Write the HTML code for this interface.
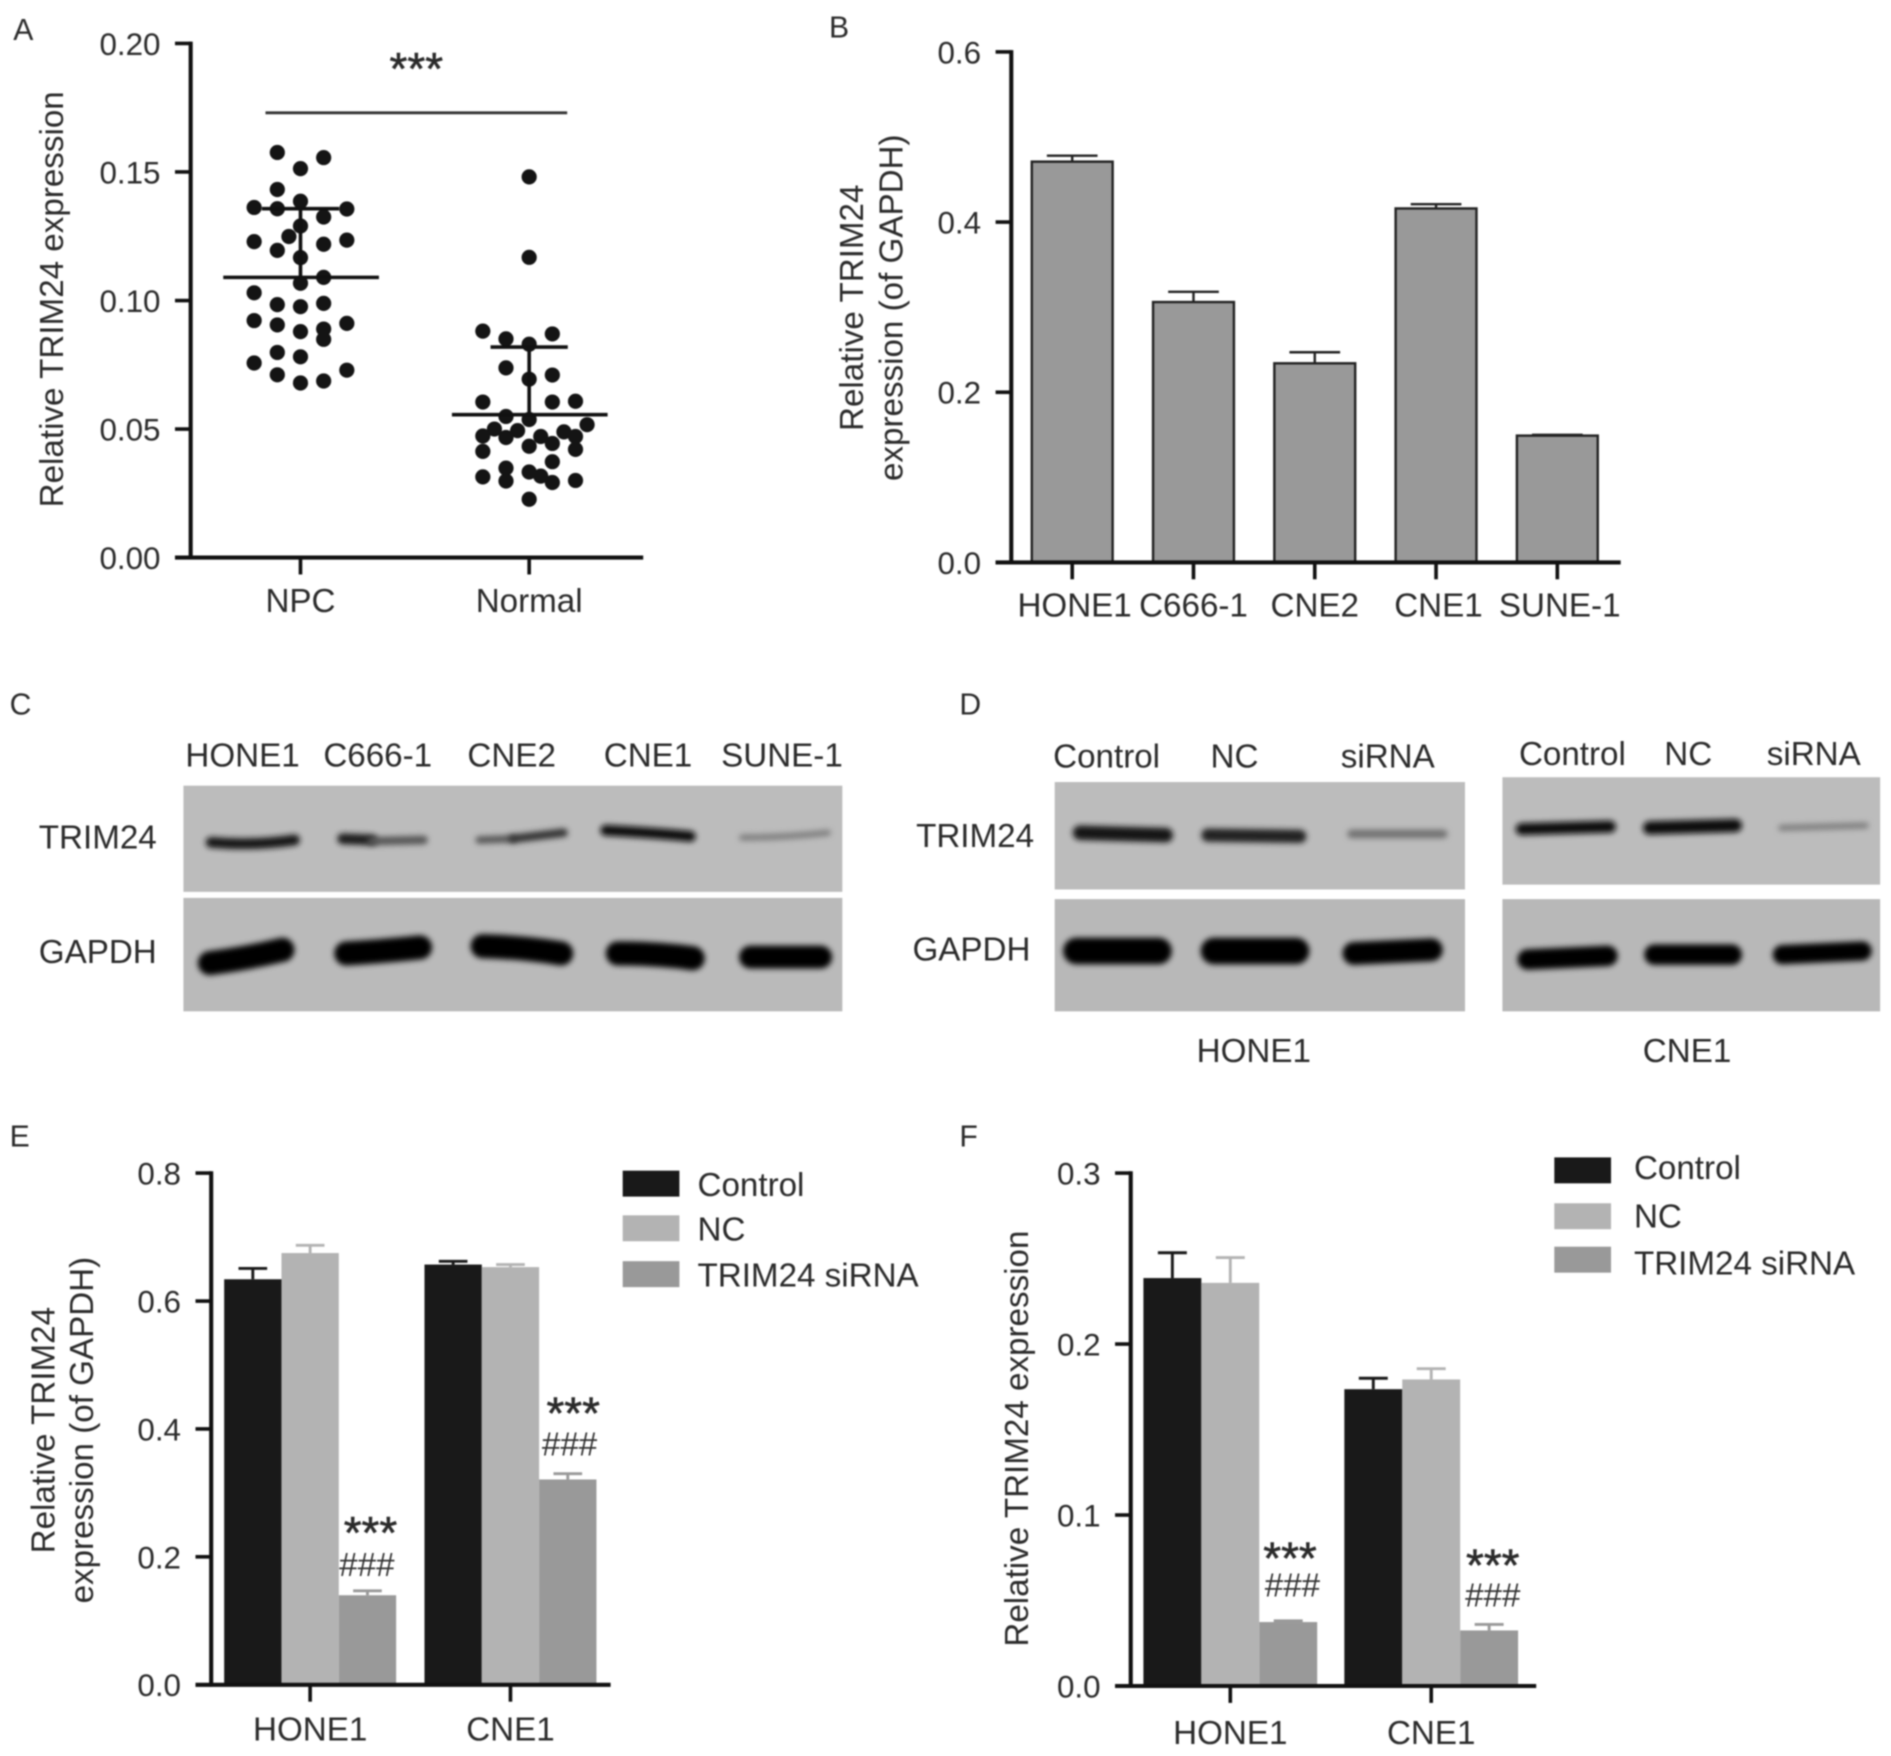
<!DOCTYPE html>
<html lang="en">
<head>
<meta charset="utf-8">
<title>TRIM24 expression figure</title>
<style>
html,body{margin:0;padding:0;background:#fff;width:1891px;height:1756px;overflow:hidden}
svg{display:block;filter:blur(.7px)}
text{font-family:"Liberation Sans",Arial,sans-serif;fill:#2b2b2b}
.t{font-size:27.5px}
.tick{font-size:26px}
.band{fill:none;stroke-linecap:round;filter:url(#bandBlur)}
</style>
</head>
<body>
<svg id="figure" xmlns="http://www.w3.org/2000/svg" width="1891" height="1756" viewBox="0 0 1567 1455" preserveAspectRatio="none">
<defs>
<filter id="bandBlur" filterUnits="userSpaceOnUse" x="0" y="0" width="1567" height="1455"><feGaussianBlur stdDeviation="2.4"/></filter>
</defs>
<rect width="1567" height="1455" fill="#fff"/>

<text x="11" y="33" style="font-size:25px">A</text>
<text x="687" y="31" style="font-size:25px">B</text>
<text x="8" y="592" style="font-size:25px">C</text>
<text x="795" y="592" style="font-size:25px">D</text>
<text x="8" y="950" style="font-size:25px">E</text>
<text x="795" y="950" style="font-size:25px">F</text>

<g id="panelA"></g>
<g id="panelB"></g>
<g id="panelE"></g>
<g id="panelF"></g>

<g>
  <rect x="152" y="651" width="546" height="88" fill="#bcbcbc"/>
  <rect x="152" y="744" width="546" height="94" fill="#bababa"/>
  <path class="band" d="M175 698 Q210 701 244 696" stroke="#141414" stroke-width="9"/>
  <path class="band" d="M284 695 L308 696" stroke="#1e1e1e" stroke-width="9"/>
  <path class="band" d="M308 697 L351 696" stroke="#555" stroke-width="7"/>
  <path class="band" d="M397 696 L425 695" stroke="#555" stroke-width="6"/>
  <path class="band" d="M425 695 L467 690" stroke="#333" stroke-width="7"/>
  <path class="band" d="M502 688 Q540 690 572 693" stroke="#111" stroke-width="9"/>
  <path class="band" d="M615 694 Q650 694 686 690" stroke="#7d7d7d" stroke-width="5"/>
  <path class="band" d="M174 798 Q205 794 234 787" stroke="#050505" stroke-width="20"/>
  <path class="band" d="M287 790 Q320 788 348 785" stroke="#050505" stroke-width="20"/>
  <path class="band" d="M400 784 Q435 785 465 790" stroke="#050505" stroke-width="20"/>
  <path class="band" d="M512 790 Q545 790 574 794" stroke="#050505" stroke-width="20"/>
  <path class="band" d="M622 793 L680 793" stroke="#050505" stroke-width="19"/>
  <text class="t" x="201" y="635" text-anchor="middle">HONE1</text>
  <text class="t" x="313" y="635" text-anchor="middle">C666-1</text>
  <text class="t" x="424" y="635" text-anchor="middle">CNE2</text>
  <text class="t" x="537" y="635" text-anchor="middle">CNE1</text>
  <text class="t" x="648" y="635" text-anchor="middle">SUNE-1</text>
  <text class="t" x="81" y="703" text-anchor="middle">TRIM24</text>
  <text class="t" x="81" y="798" text-anchor="middle">GAPDH</text>
</g>

<g>
  <rect x="874" y="648" width="340" height="89" fill="#bcbcbc"/>
  <rect x="874" y="745" width="340" height="93" fill="#b8b8b8"/>
  <rect x="1245" y="644" width="313" height="89" fill="#bcbcbc"/>
  <rect x="1245" y="745" width="313" height="93" fill="#b8b8b8"/>
  <path class="band" d="M895 690 L966 692" stroke="#121212" stroke-width="12"/>
  <path class="band" d="M1001 692 L1077 693" stroke="#202020" stroke-width="11"/>
  <path class="band" d="M1120 691 L1196 691" stroke="#6f6f6f" stroke-width="7"/>
  <path class="band" d="M892 788 L960 788" stroke="#050505" stroke-width="22"/>
  <path class="band" d="M1006 788 L1074 788" stroke="#050505" stroke-width="22"/>
  <path class="band" d="M1122 790 L1186 787" stroke="#050505" stroke-width="19"/>
  <path class="band" d="M1261 687 L1334 685" stroke="#101010" stroke-width="10"/>
  <path class="band" d="M1367 686 L1438 684" stroke="#101010" stroke-width="11"/>
  <path class="band" d="M1476 686 L1546 684" stroke="#7d7d7d" stroke-width="5"/>
  <path class="band" d="M1266 795 L1332 792" stroke="#050505" stroke-width="17"/>
  <path class="band" d="M1371 791 L1435 791" stroke="#050505" stroke-width="17"/>
  <path class="band" d="M1477 791 L1543 788" stroke="#050505" stroke-width="16"/>
  <text class="t" x="917" y="636" text-anchor="middle">Control</text>
  <text class="t" x="1023" y="636" text-anchor="middle">NC</text>
  <text class="t" x="1150" y="636" text-anchor="middle">siRNA</text>
  <text class="t" x="1303" y="634" text-anchor="middle">Control</text>
  <text class="t" x="1399" y="634" text-anchor="middle">NC</text>
  <text class="t" x="1503" y="634" text-anchor="middle">siRNA</text>
  <text class="t" x="808" y="702" text-anchor="middle">TRIM24</text>
  <text class="t" x="805" y="796" text-anchor="middle">GAPDH</text>
  <text class="t" x="1039" y="880" text-anchor="middle">HONE1</text>
  <text class="t" x="1398" y="880" text-anchor="middle">CNE1</text>
</g>
</svg>

<script>
// Panel A data
const aYTicks = [0, 0.05, 0.10, 0.15, 0.20];
const aYTickLabels = ['0.00', '0.05', '0.10', '0.15', '0.20'];
const aCategories = ['NPC', 'Normal'];
const npcValues = [.1576,.1556,.1513,.1432,.1362,.1357,.1386,.1356,.1325,.1290,.1249,.1229,.1235,.1219,.1195,.1167,.1090,.1067,.1030,.0984,.0976,.0989,.0922,.0905,.0911,.0879,.0889,.0849,.0798,.0781,.0757,.0729,.0711,.0679,.0687];
const npcSwarmSlots = [-1,1,0,-1,-2,-1,0,2,1,0,-.5,-2,2,1,-1,0,1,0,-2,-1,0,1,-2,-1,2,0,1,1,-1,0,-2,2,-1,0,1];
const normalValues = [.1481,.1168,.0881,.0851,.0870,.0830,.0738,.0710,.0694,.0605,.0605,.0608,.0549,.0537,.0517,.0500,.0494,.0473,.0467,.0471,.0489,.0471,.0444,.0433,.0413,.0421,.0373,.0348,.0333,.0317,.0314,.0298,.0292,.0300,.0227];
const normalSwarmSlots = [0,0,-2,-1,1,0,-1,1,0,-2,1,2,-1,0,2.5,-1.5,-.5,-2,-1,.5,1.5,2,1,0,-2,2,1,-1,0,.5,-2,-1,1,2,0];
const aMeans = [0.1090, 0.0556];
const aUpperSd = [0.1357, 0.0819];
const aSignificance = 0.1730;

// Panel B data
const bYTicks = [0, 0.2, 0.4, 0.6];
const bYTickLabels = ['0.0', '0.2', '0.4', '0.6'];
const bCategories = ['HONE1', 'C666-1', 'CNE2', 'CNE1', 'SUNE-1'];
const bValues = [0.471, 0.306, 0.234, 0.416, 0.149];
const bErrors = [0.478, 0.318, 0.247, 0.421, 0.150];

// Panel E data
const eYTicks = [0, 0.2, 0.4, 0.6, 0.8];
const eYTickLabels = ['0.0', '0.2', '0.4', '0.6', '0.8'];
const eCategories = ['HONE1', 'CNE1'];
const seriesNames = ['Control', 'NC', 'TRIM24 siRNA'];
const eControl = [0.634, 0.657];
const eNC = [0.675, 0.653];
const eSiRNA = [0.140, 0.321];
const eControlErr = [0.651, 0.662];
const eNCErr = [0.687, 0.657];
const eSiRNAErr = [0.147, 0.330];

// Panel F data
const fYTicks = [0, 0.1, 0.2, 0.3];
const fYTickLabels = ['0.0', '0.1', '0.2', '0.3'];
const fCategories = ['HONE1', 'CNE1'];
const fControl = [0.2386, 0.1736];
const fNC = [0.2358, 0.1793];
const fSiRNA = [0.0374, 0.0325];
const fControlErr = [0.2534, 0.1800];
const fNCErr = [0.2506, 0.1856];
const fSiRNAErr = [0.0381, 0.0360];

const seriesColors = ['#191919', '#b3b3b3', '#999999'];
const NS = 'http://www.w3.org/2000/svg';

function mk(parent, tag, attrs, name, txt) {
  const el = document.createElementNS(NS, tag);
  for (const k in attrs) el.setAttribute(k, attrs[k]);
  
  
  if (txt !== undefined) el.textContent = txt;
  parent.appendChild(el);
  return el;
}
function line(p, x1, y1, x2, y2, stroke, w, name) {
  return mk(p, 'line', {x1, y1, x2, y2, stroke, 'stroke-width': w}, name);
}
function linear(d0, d1, r0, r1) {
  return v => r0 + (v - d0) * (r1 - r0) / (d1 - d0);
}
function drawAxes(p, cfg) {
  const y = cfg.y;
  const top = y(cfg.ticks[cfg.ticks.length - 1]), base = y(0);
  line(p, cfg.axisX, top - 1.5, cfg.axisX, base + 1.5, '#111', 3.4, 'y-axis');
  line(p, cfg.axisX - 13, base, cfg.axisEnd, base, '#111', 3.4, 'x-axis');
  cfg.ticks.forEach((t, i) => {
    line(p, cfg.axisX - 13, y(t), cfg.axisX, y(t), '#111', 3, 'y-tick');
    mk(p, 'text', {x: cfg.axisX - 25, y: y(t) + 9.5, 'text-anchor': 'end', class: 'tick'}, 'y-tick-label', cfg.labels[i]);
  });
  cfg.cats.forEach((c, i) => {
    const cx = cfg.catX(i);
    line(p, cx, base, cx, base + 14, '#111', 3, 'x-tick');
    mk(p, 'text', {x: cx + (cfg.labelShift ? cfg.labelShift[i] : 0), y: base + cfg.labelDy, 'text-anchor': 'middle', class: 't'}, 'x-tick-label', c);
  });
  cfg.title.forEach((row, i) => {
    mk(p, 'text', {x: 0, y: 0, 'text-anchor': 'middle', class: 't', transform: `translate(${cfg.titleX[i]} ${cfg.titleY}) rotate(-90)`}, 'y-axis-title', row);
  });
}
function starMark(p, x, y) {
  mk(p, 'text', {x, y, 'text-anchor': 'middle', style: 'font-size:38px;fill:#2b2b2b;stroke:#2b2b2b;stroke-width:.5'}, 'significance-stars', '***');
}
function hashMark(p, x, y) {
  mk(p, 'text', {x, y, 'text-anchor': 'middle', style: 'font-size:27.5px;fill:#333'}, 'significance-hashes', '###');
}

// ---- Panel A
(function () {
  const p = document.getElementById('panelA');
  const y = linear(0, 0.2, 462, 36);
  const centers = [249, 438.5];
  const slotW = 19.2, r = 6.3;
  drawAxes(p, {y, ticks: aYTicks, labels: aYTickLabels, axisX: 158, axisEnd: 533, cats: aCategories,
    catX: i => centers[i], labelDy: 45, title: ['Relative TRIM24 expression'], titleX: [52], titleY: 248});
  [[npcValues, npcSwarmSlots, 'npc-point'], [normalValues, normalSwarmSlots, 'normal-point']].forEach((s, k) => {
    s[0].forEach((v, i) => {
      mk(p, 'circle', {cx: centers[k] + s[1][i] * slotW, cy: y(v), r, fill: '#141414'}, s[2]);
    });
  });
  aMeans.forEach((m, i) => {
    const c = centers[i];
    line(p, c - 64, y(m), c + 65, y(m), '#111', 3, 'mean-line');
    line(p, c, y(m), c, y(aUpperSd[i]), '#111', 3, 'sd-bar');
    line(p, c - 32, y(aUpperSd[i]), c + 32, y(aUpperSd[i]), '#111', 3, 'sd-cap');
  });
  line(p, 220, y(aSignificance), 470, y(aSignificance), '#333', 2.4, 'significance-line');
  starMark(p, 345, 70);
})();

// ---- Panel B
(function () {
  const p = document.getElementById('panelB');
  const y = linear(0, 0.6, 466, 43);
  const catX = i => 888.5 + i * 100.5;
  const w = 67;
  bValues.forEach((v, i) => {
    const cx = catX(i);
    line(p, cx, y(v), cx, y(bErrors[i]), '#222', 2, 'bar-error');
    line(p, cx - 21, y(bErrors[i]), cx + 21, y(bErrors[i]), '#222', 2, 'bar-error-cap');
    mk(p, 'rect', {x: cx - w / 2, y: y(v), width: w, height: y(0) - y(v), fill: '#999', stroke: '#222', 'stroke-width': 2}, 'bar-' + bCategories[i].toLowerCase());
  });
  drawAxes(p, {y, ticks: bYTicks, labels: bYTickLabels, axisX: 838, axisEnd: 1343, cats: bCategories, catX,
    labelDy: 45, labelShift: [2, 0, 0, 2, 2],
    title: ['Relative TRIM24', 'expression (of GAPDH)'], titleX: [715, 748], titleY: 255});
})();

// ---- Grouped bars
function grouped(p, cfg) {
  const y = cfg.y;
  cfg.series.forEach((vals, s) => {
    vals.forEach((v, g) => {
      const cx = cfg.catX(g) + (s - 1) * cfg.step;
      const e = cfg.errs[s][g];
      line(p, cx, y(v), cx, y(e), seriesColors[s], 2.4, 'bar-error');
      line(p, cx - cfg.w / 4, y(e), cx + cfg.w / 4, y(e), seriesColors[s], 2.4, 'bar-error-cap');
      mk(p, 'rect', {x: cx - cfg.step / 2, y: y(v), width: cfg.step, height: y(0) - y(v), fill: seriesColors[s]}, 'bar-' + cfg.cats[g].toLowerCase() + '-' + s);
    });
  });
  drawAxes(p, {y, ticks: cfg.ticks, labels: cfg.labels, axisX: cfg.axisX, axisEnd: cfg.axisEnd, cats: cfg.cats, catX: cfg.catX,
    labelDy: cfg.labelDy, title: cfg.title, titleX: cfg.titleX, titleY: cfg.titleY});
  seriesNames.forEach((n, i) => {
    mk(p, 'rect', {x: cfg.legendX, y: cfg.legendRowY[i] - 11, width: 47, height: 21.5, fill: seriesColors[i]}, 'legend-swatch');
    mk(p, 'text', {x: cfg.legendTextX, y: cfg.legendTextY[i], class: 't'}, 'legend-entry', n);
  });
  cfg.stars.forEach(m => starMark(p, m[0], m[1]));
  cfg.hashes.forEach(m => hashMark(p, m[0], m[1]));
}
grouped(document.getElementById('panelE'), {
  y: linear(0, 0.8, 1396, 972), ticks: eYTicks, labels: eYTickLabels, cats: eCategories,
  catX: i => 257 + i * 166, step: 47.5, w: 47.5, axisX: 175, axisEnd: 506,
  series: [eControl, eNC, eSiRNA], errs: [eControlErr, eNCErr, eSiRNAErr], labelDy: 46,
  title: ['Relative TRIM24', 'expression (of GAPDH)'], titleX: [45, 77], titleY: 1185,
  legendX: 516, legendRowY: [981, 1018, 1056], legendTextX: 578, legendTextY: [991, 1028, 1066],
  stars: [[307, 1283], [475, 1184]], hashes: [[304, 1306], [472, 1206]]
});
grouped(document.getElementById('panelF'), {
  y: linear(0, 0.3, 1397, 972), ticks: fYTicks, labels: fYTickLabels, cats: fCategories,
  catX: i => 1019.5 + i * 166.5, step: 48, w: 48, axisX: 937, axisEnd: 1273,
  series: [fControl, fNC, fSiRNA], errs: [fControlErr, fNCErr, fSiRNAErr], labelDy: 48,
  title: ['Relative TRIM24 expression'], titleX: [852], titleY: 1192,
  legendX: 1288, legendRowY: [970, 1008, 1044], legendTextX: 1354, legendTextY: [977, 1017, 1056],
  stars: [[1069, 1304], [1237, 1310]], hashes: [[1071, 1323], [1237, 1331]]
});
</script>
</body>
</html>
